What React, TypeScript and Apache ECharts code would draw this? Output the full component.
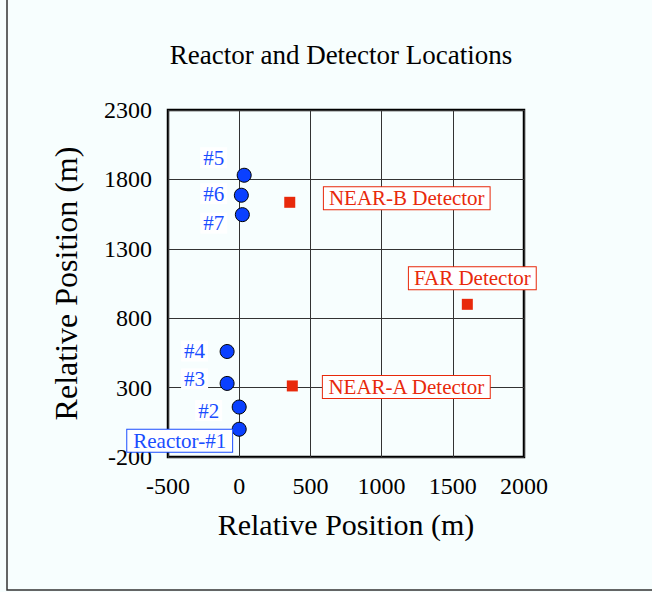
import React, { useEffect, useRef } from "react";
import * as echarts from "echarts";

const reactorNames = ["Reactor-#1", "#2", "#3", "#4", "#5", "#6", "#7"];
const reactorX = [0, 0, -85, -85, 35, 15, 22];
const reactorY = [0, 160, 330, 560, 1830, 1686, 1546];

const detectorNames = ["NEAR-A Detector", "NEAR-B Detector", "FAR Detector"];
const detectorX = [373, 355, 1602];
const detectorY = [312, 1635, 900];

const xTicks = [-500, 0, 500, 1000, 1500, 2000];
const yTicks = [-200, 300, 800, 1300, 1800, 2300];

// label offsets (pixels from marker centre) – layout only
const reactorLabelOffsets = [[-59, 12], [-30, 4], [-32, -4], [-32, 0], [-30, -17], [-27, -1], [-28, 9]];
const detectorLabelOffsets = [[114, 1], [117, -4], [5, -26]];

const BLUE = "#1a4dff";
const RED = "#e8290b";
const FONT = "'Liberation Serif', 'Times New Roman', serif";

export default function App() {
  const ref = useRef<HTMLDivElement>(null);
  useEffect(() => {
    const chart = echarts.init(ref.current!, undefined, { renderer: "svg" });
    const rSize = 14;
    const dSize = 11;
    const reactorData = reactorX.map((x, i) => {
      const [dx, dy] = reactorLabelOffsets[i];
      const boxed = i === 0;
      return {
        value: [x, reactorY[i]],
        name: reactorNames[i],
        label: {
          show: true,
          formatter: reactorNames[i],
          position: [dx + rSize / 2, dy + rSize / 2],
          align: "center",
          verticalAlign: "middle",
          color: BLUE,
          fontFamily: FONT,
          fontSize: 21,
          backgroundColor: "#ffffff",
          borderColor: boxed ? BLUE : "transparent",
          borderWidth: boxed ? 1 : 0,
          padding: boxed ? [1, 6, 0, 6] : [0, 3, 0, 3],
        },
      };
    });
    const detectorData = detectorX.map((x, i) => {
      const [dx, dy] = detectorLabelOffsets[i];
      return {
        value: [x, detectorY[i]],
        name: detectorNames[i],
        label: {
          show: true,
          formatter: detectorNames[i],
          position: [dx + dSize / 2, dy + dSize / 2],
          align: "center",
          verticalAlign: "middle",
          color: RED,
          fontFamily: FONT,
          fontSize: 21,
          backgroundColor: "#ffffff",
          borderColor: RED,
          borderWidth: 1,
          padding: [1, 5, 0, 5],
        },
      };
    });
    chart.setOption({
      animation: false,
      backgroundColor: "#f7fefe",
      textStyle: { fontFamily: FONT },
      title: {
        text: "Reactor and Detector Locations",
        left: 336,
        textAlign: "center",
        top: 36,
        textStyle: { fontFamily: FONT, fontSize: 27, fontWeight: "normal", color: "#000" },
      },
      graphic: [
        {
          type: "rect",
          shape: { x: 7, y: -20, width: 700, height: 610 },
          style: { fill: "none", stroke: "#333", lineWidth: 1.5 },
          silent: true,
        },
      ],
      grid: {
        left: 168,
        right: 128,
        top: 110,
        bottom: 135,
        show: true,
        borderColor: "#000",
        borderWidth: 2.5,
        backgroundColor: "transparent",
      },
      xAxis: {
        type: "value",
        min: xTicks[0],
        max: xTicks[xTicks.length - 1],
        interval: 500,
        name: "Relative Position (m)",
        nameLocation: "middle",
        nameGap: 52,
        nameTextStyle: { fontFamily: FONT, fontSize: 30, color: "#000" },
        axisLine: { show: false },
        axisTick: { show: false },
        axisLabel: { fontFamily: FONT, fontSize: 24, color: "#000", margin: 17, formatter: (v: number) => String(v) },
        splitLine: { show: true, lineStyle: { color: "#333", width: 1 } },
      },
      yAxis: {
        type: "value",
        min: yTicks[0],
        max: yTicks[yTicks.length - 1],
        interval: 500,
        name: "Relative Position (m)",
        nameLocation: "middle",
        nameGap: 86,
        nameTextStyle: { fontFamily: FONT, fontSize: 32, color: "#000" },
        axisLine: { show: false },
        axisTick: { show: false },
        axisLabel: { fontFamily: FONT, fontSize: 24, color: "#000", margin: 16, formatter: (v: number) => String(v) },
        splitLine: { show: true, lineStyle: { color: "#333", width: 1 } },
      },
      series: [
        {
          type: "scatter",
          name: "Reactors",
          symbol: "circle",
          symbolSize: rSize,
          itemStyle: { color: "#0a40ff", borderColor: "#000", borderWidth: 1, opacity: 1 },
          data: reactorData,
          z: 3,
        },
        {
          type: "scatter",
          name: "Detectors",
          symbol: "rect",
          symbolSize: dSize,
          itemStyle: { color: RED, opacity: 1 },
          data: detectorData,
          z: 3,
        },
      ],
    });
    return () => chart.dispose();
  }, []);
  return (
    <div
      ref={ref}
      style={{ position: "fixed", left: 0, top: 0, width: 652, height: 592 }}
    />
  );
}
